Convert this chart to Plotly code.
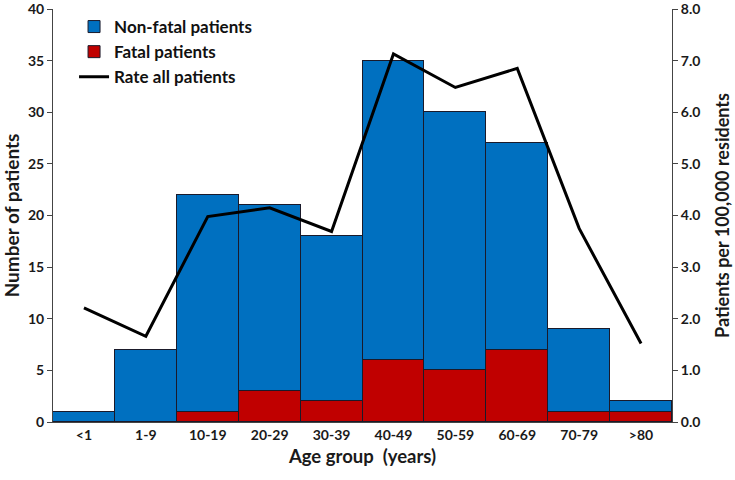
import plotly.graph_objects as go

age_groups = ["<1", "1-9", "10-19", "20-29", "30-39", "40-49", "50-59", "60-69", "70-79", ">80"]
total_patients = [1, 7, 22, 21, 18, 35, 30, 27, 9, 2]
fatal_patients = [0, 0, 1, 3, 2, 6, 5, 7, 1, 1]
nonfatal_patients = [t - f for t, f in zip(total_patients, fatal_patients)]
rate_all = [2.21, 1.66, 3.98, 4.15, 3.69, 7.13, 6.48, 6.85, 3.75, 1.52]

FONT = "Lato"
BLUE = "#0070C0"
RED = "#C00000"

fig = go.Figure()
fig.add_trace(go.Bar(
    x=age_groups, y=fatal_patients, name="Fatal patients",
    marker=dict(color=RED, line=dict(color="#1a1a2a", width=1)),
    legendrank=2,
))
fig.add_trace(go.Bar(
    x=age_groups, y=nonfatal_patients, name="Non-fatal patients",
    marker=dict(color=BLUE, line=dict(color="#1a1a2a", width=1)),
    legendrank=1,
))
fig.add_trace(go.Scatter(
    x=age_groups, y=rate_all, name="Rate all patients", yaxis="y2",
    mode="lines", line=dict(color="black", width=3),
    legendrank=3,
))

fig.update_layout(
    width=735, height=480,
    margin=dict(l=53, r=63, t=9, b=58),
    barmode="stack", bargap=0,
    plot_bgcolor="white", paper_bgcolor="white",
    font=dict(family=FONT, size=14, color="#1a1a1a"),
    showlegend=True,
    legend=dict(
        x=0.034, y=1.0, xanchor="left", yanchor="top", traceorder="normal",
        font=dict(family=FONT, size=17, color="#111111", weight="bold"),
        bgcolor="rgba(0,0,0,0)", tracegroupgap=0, itemwidth=30,
    ),
    xaxis=dict(
        showline=True, linecolor="#444444", linewidth=1, automargin=False,
        ticks="", showgrid=False,
        tickfont=dict(family=FONT, size=14, weight="bold"),
        title=dict(text="Age group  (years)", font=dict(family=FONT, size=18.5, weight="bold"), standoff=8),
    ),
    yaxis=dict(
        range=[0, 40], dtick=5, showline=True, linecolor="#444444", linewidth=1, automargin=False,
        ticks="outside", ticklen=5, tickcolor="#444444", showgrid=False, zeroline=False,
        ticklabeloverflow="allow",
        tickfont=dict(family=FONT, size=14, weight="bold"),
        title=dict(text="Number of patients", font=dict(family=FONT, size=19, weight="bold"), standoff=6),
    ),
    yaxis2=dict(
        range=[0, 8], dtick=1, tickformat=".1f", overlaying="y", side="right", automargin=False,
        showline=True, linecolor="#444444", linewidth=1,
        ticks="outside", ticklen=5, tickcolor="#444444", showgrid=False, zeroline=False,
        ticklabeloverflow="allow",
        tickfont=dict(family=FONT, size=14, weight="bold"),
        title=dict(text="Patients per 100,000 residents", font=dict(family=FONT, size=18, weight="bold"), standoff=17),
    ),
)

fig.write_html("out.html", config={"displayModeBar": False},
               post_script="document.body.style.margin='0';")
